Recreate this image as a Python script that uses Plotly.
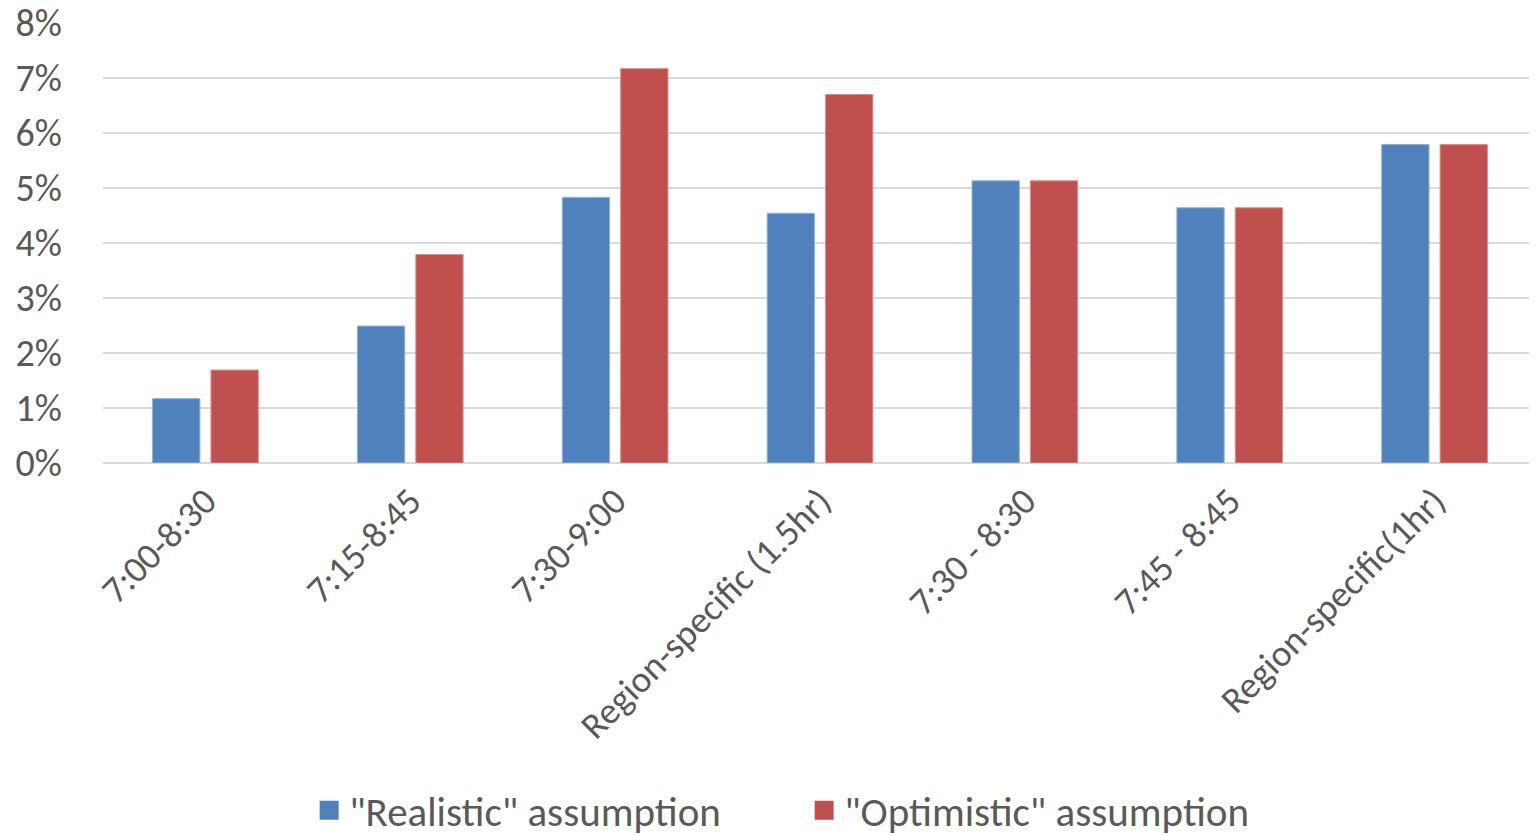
import plotly.graph_objects as go

categories = ["7:00-8:30", "7:15-8:45", "7:30-9:00", "Region-specific (1.5hr)",
              "7:30 - 8:30", "7:45 - 8:45", "Region-specific(1hr)"]
realistic = [1.17, 2.49, 4.83, 4.54, 5.13, 4.64, 5.79]
optimistic = [1.69, 3.79, 7.17, 6.70, 5.13, 4.64, 5.79]
series_names = ['"Realistic" assumption', '"Optimistic" assumption']
series_colors = ["#4f81bd", "#c0504d"]
series_edges = ["#8fb0dc", "#dc8d8b"]
y_ticks = [0, 1, 2, 3, 4, 5, 6, 7, 8]
y_tick_labels = [f"{v}%" for v in y_ticks]

FONT = "Carlito, Calibri, Lato, sans-serif"
TXT = "#595959"

fig = go.Figure()
for vals, name, col, edge in zip([realistic, optimistic], series_names, series_colors, series_edges):
    fig.add_trace(go.Bar(x=categories, y=vals, name=name, showlegend=False,
                         marker=dict(color=col, line=dict(color=edge, width=1))))
# legend entries (larger square swatches)
for name, col in zip(series_names, series_colors):
    fig.add_trace(go.Scatter(x=[None], y=[None], mode="markers", name=name,
                             marker=dict(symbol="square", size=20, color=col,
                                         line=dict(color=col, width=3))))

fig.update_layout(
    width=1537, height=836,
    margin=dict(l=95, r=8, t=15, b=381, autoexpand=False),
    paper_bgcolor="white", plot_bgcolor="white",
    barmode="group", bargap=0.43, bargroupgap=0.19,
    font=dict(family=FONT, size=36, color=TXT),
    showlegend=True,
    legend=dict(orientation="h", xref="container", yref="container",
                x=0.518, xanchor="center", y=0.040, yanchor="middle",
                font=dict(family=FONT, size=41, color=TXT), itemsizing="trace",
                entrywidth=450, entrywidthmode="pixels", bgcolor="rgba(0,0,0,0)"),
)
fig.update_xaxes(tickangle=-45, showgrid=False, showline=False, ticks="", automargin=False,
                 ticklabelstandoff=8,
                 tickfont=dict(family=FONT, size=37, color=TXT))
fig.update_yaxes(range=[0, 8], tickvals=y_ticks, ticktext=y_tick_labels, automargin=False,
                 showgrid=True, gridcolor="#d9d9d9", gridwidth=2,
                 zeroline=True, zerolinecolor="#d9d9d9", zerolinewidth=2,
                 showline=False, ticks="", ticklabelstandoff=40, ticklabeloverflow="allow",
                 tickfont=dict(family=FONT, size=38, color=TXT))

fig.write_html("out.html")
